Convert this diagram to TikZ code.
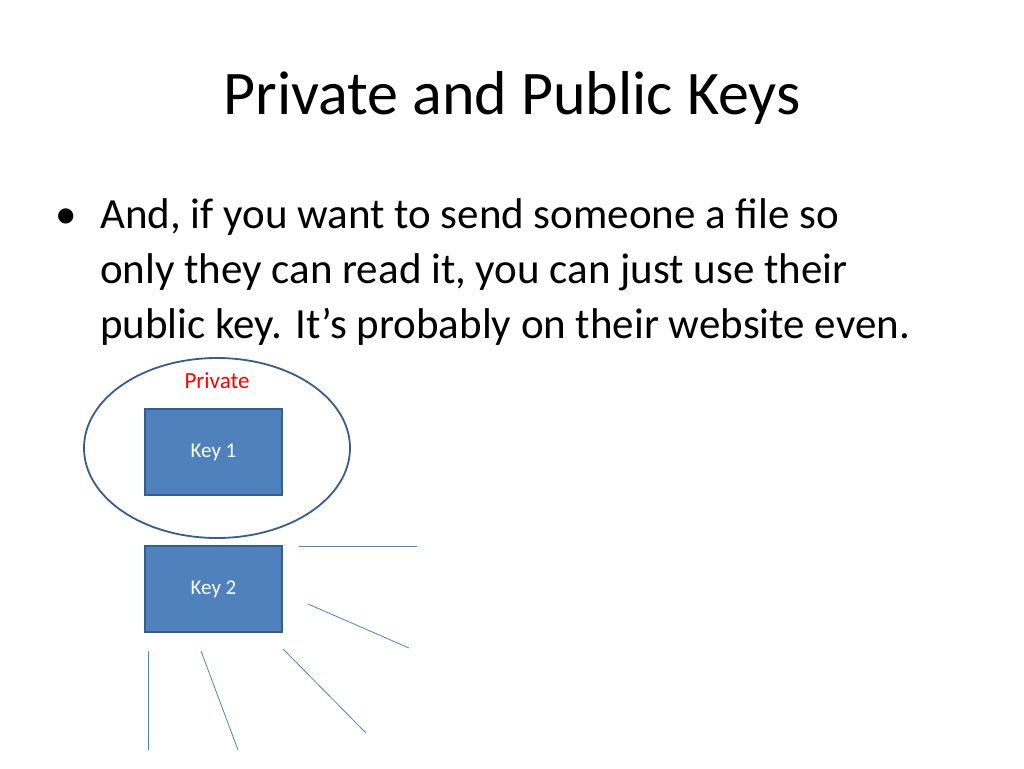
\documentclass[tikz,border=0pt]{standalone}
\usepackage{fontspec}
\usetikzlibrary{shapes.geometric}
\setmainfont{Carlito}
\definecolor{kfill}{HTML}{4F81BD}
\definecolor{kline}{HTML}{385D8A}
\begin{document}
\begin{tikzpicture}[x=1pt,y=-1pt,
  keybox/.style={draw=kline,line width=1.5pt,fill=kfill,minimum width=137pt,minimum height=86pt,text=white,font=\fontsize{21}{25}\selectfont,inner sep=0pt},
  body/.style={anchor=base west,inner sep=0pt,font=\fontsize{43}{52}\selectfont},
  ray/.style={draw=kfill,line width=0.8pt}]
\useasboundingbox (0,0) rectangle (1024,768);
\node (title) [font=\fontsize{62}{70}\selectfont] at (512,98) {Private and Public Keys};
\node (dot) [body] at (55,228) {•};
\node (l1) [body] at (100,228) {And, if you want to send someone a file so};
\node (l2) [body] at (100,283) {only they can read it, you can just use their};
\node (l3) [body] at (100,338) {public key. It’s probably on their website even.};
\node (ell) [draw=kline,line width=1.8pt,ellipse,minimum width=266pt,minimum height=180pt] at (217,448) {};
\node (priv) [text=red,font=\fontsize{23}{27}\selectfont] at (217,381) {Private};
\node (k1) [keybox] at (213.5,452) {Key 1};
\node (k2) [keybox] at (213.5,589) {Key 2};
\coordinate (a1) at (299,546); \coordinate (a2) at (417,546);
\coordinate (b1) at (308,604); \coordinate (b2) at (409,648);
\coordinate (c1) at (283,649); \coordinate (c2) at (366,733);
\coordinate (d1) at (201,651); \coordinate (d2) at (238,750);
\coordinate (e1) at (148,651); \coordinate (e2) at (148,750);
\draw[ray] (a1)--(a2); \draw[ray] (b1)--(b2); \draw[ray] (c1)--(c2);
\draw[ray] (d1)--(d2); \draw[ray] (e1)--(e2);
\end{tikzpicture}
\end{document}
